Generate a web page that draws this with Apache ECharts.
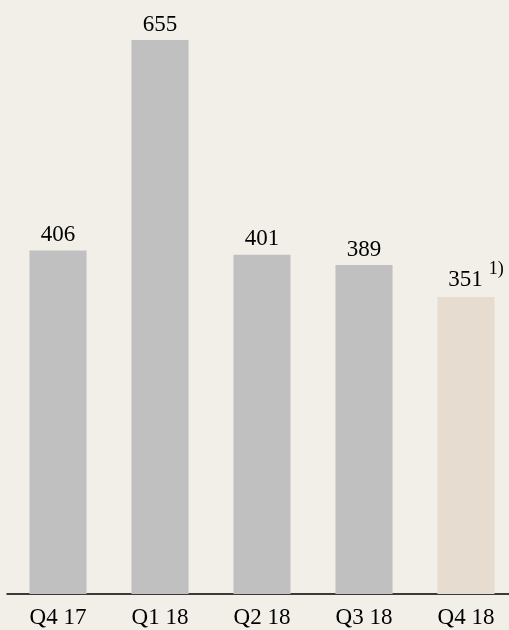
<!DOCTYPE html>
<html>
<head>
<meta charset="utf-8">
<script src="https://cdn.jsdelivr.net/npm/echarts@6/dist/echarts.min.js"></script>
<style>
  html, body { margin: 0; padding: 0; background: #f2efe8; }
  #chart { width: 509px; height: 630px; }
</style>
</head>
<body>
<div id="chart"></div>
<script>
// Quarterly values
const quarters = ['Q4 17', 'Q1 18', 'Q2 18', 'Q3 18', 'Q4 18'];
const values = [406, 655, 401, 389, 351];
// The latest quarter is highlighted and carries footnote 1)
const footnotes = ['', '', '', '', '1)'];

const serif = '"Liberation Serif", "Times New Roman", serif';
const grey = '#c0c0c0';
const beige = '#e6dccf';

const seriesData = values.map((v, i) => {
  const last = i === values.length - 1;
  const item = {
    value: v,
    itemStyle: { color: last ? beige : grey }
  };
  if (footnotes[i]) {
    // value stays centred over the bar, footnote raised to its right
    item.label = {
      formatter: '{v|' + v + '}{s|' + footnotes[i] + '}',
      offset: [10, 7]
    };
  }
  return item;
});

const chart = echarts.init(document.getElementById('chart'), null, { renderer: 'canvas' });
chart.setOption({
  backgroundColor: '#f2efe8',
  animation: false,
  grid: {
    left: 7, width: 510, top: 40, bottom: 36,
    containLabel: false,
    outerBoundsMode: 'none'
  },
  xAxis: {
    type: 'category',
    data: quarters,
    axisLine: { show: true, lineStyle: { color: '#000', width: 1.5 } },
    axisTick: { show: false },
    axisLabel: { color: '#000', fontFamily: serif, fontSize: 23, margin: 12 }
  },
  yAxis: {
    type: 'value',
    min: 0,
    max: 655,
    show: false,
    splitLine: { show: false }
  },
  series: [{
    type: 'bar',
    data: seriesData,
    barCategoryGap: '44%',
    label: {
      show: true,
      position: 'top',
      distance: 4,
      color: '#000',
      fontFamily: serif,
      fontSize: 23,
      rich: {
        v: { fontFamily: serif, fontSize: 23, color: '#000' },
        s: { fontFamily: serif, fontSize: 18, color: '#000', padding: [0, 0, 22, 6] }
      }
    }
  }]
});
</script>
</body>
</html>
